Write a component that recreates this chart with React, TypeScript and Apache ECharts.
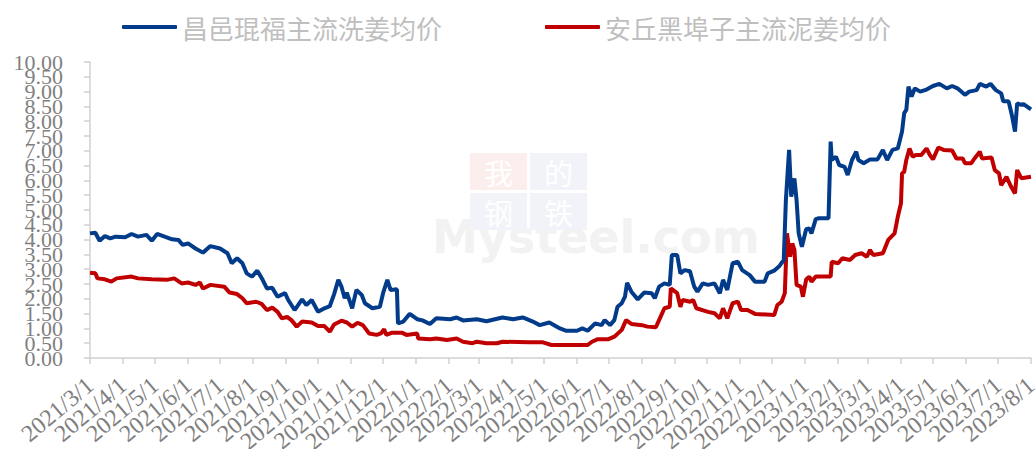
import React, { useEffect, useRef } from "react";
import * as echarts from "echarts";

const seriesNames = ["昌邑琨福主流洗姜均价", "安丘黑埠子主流泥姜均价"];

const blueDates = [
  "2021-03-01","2021-03-06","2021-03-10","2021-03-15","2021-03-20","2021-03-25","2021-04-03","2021-04-09","2021-04-15","2021-04-23",
  "2021-04-28","2021-05-03","2021-05-10","2021-05-17","2021-05-23","2021-05-27","2021-06-01","2021-06-08","2021-06-15","2021-06-22",
  "2021-07-01","2021-07-08","2021-07-12","2021-07-17","2021-07-22","2021-07-26","2021-07-31","2021-08-05","2021-08-10","2021-08-14",
  "2021-08-19","2021-08-24","2021-08-31","2021-09-03","2021-09-09","2021-09-16","2021-09-20","2021-09-25","2021-10-01","2021-10-07",
  "2021-10-12","2021-10-14","2021-10-16","2021-10-20","2021-10-23","2021-10-26","2021-10-28","2021-11-02","2021-11-06","2021-11-11",
  "2021-11-14","2021-11-21","2021-11-28","2021-12-01","2021-12-05","2021-12-08","2021-12-14","2021-12-15","2021-12-20","2021-12-26",
  "2022-01-02","2022-01-07","2022-01-14","2022-01-20","2022-02-02","2022-02-08","2022-02-14","2022-02-27","2022-03-08","2022-03-23",
  "2022-04-02","2022-04-11","2022-04-20","2022-04-27","2022-05-06","2022-05-16","2022-05-22","2022-06-01","2022-06-06","2022-06-11",
  "2022-06-18","2022-06-24","2022-06-27","2022-07-02","2022-07-06","2022-07-09","2022-07-13","2022-07-16","2022-07-18","2022-07-22",
  "2022-07-28","2022-08-03","2022-08-10","2022-08-13","2022-08-17","2022-08-22","2022-08-27","2022-08-29","2022-09-03","2022-09-06",
  "2022-09-10","2022-09-15","2022-09-19","2022-09-22","2022-09-27","2022-10-02","2022-10-08","2022-10-13","2022-10-16","2022-10-20",
  "2022-10-25","2022-10-30","2022-11-03","2022-11-10","2022-11-15","2022-11-24","2022-11-27","2022-12-03","2022-12-08","2022-12-12",
  "2022-12-14","2022-12-17","2022-12-19","2022-12-22","2022-12-24","2022-12-26","2022-12-29","2023-01-02","2023-01-05","2023-01-07",
  "2023-01-11","2023-01-14","2023-01-23","2023-01-25","2023-01-26","2023-01-30","2023-02-02","2023-02-07","2023-02-10","2023-02-14",
  "2023-02-18","2023-02-20","2023-02-25","2023-03-03","2023-03-10","2023-03-15","2023-03-19","2023-03-24","2023-03-29","2023-04-02",
  "2023-04-04","2023-04-06","2023-04-08","2023-04-11","2023-04-14","2023-04-19","2023-04-25","2023-05-01","2023-05-07","2023-05-14",
  "2023-05-19","2023-05-24","2023-05-31","2023-06-04","2023-06-11","2023-06-14","2023-06-20","2023-06-24","2023-06-29","2023-07-04",
  "2023-07-06","2023-07-11","2023-07-14","2023-07-17","2023-07-19","2023-07-23","2023-07-25","2023-08-01"
];
const blueValues = [
  4.21,4.23,3.96,4.12,4.04,4.10,4.08,4.19,4.10,4.16,
  3.96,4.19,4.10,4.01,3.99,3.82,3.87,3.70,3.56,3.78,
  3.70,3.54,3.20,3.37,3.20,2.86,2.75,2.95,2.64,2.35,
  2.37,2.07,2.19,1.96,1.62,1.98,1.79,1.96,1.56,1.68,
  1.75,1.95,2.15,2.64,2.41,2.02,2.21,1.68,2.30,2.13,
  1.85,1.68,1.73,2.19,2.64,2.30,2.32,1.17,1.23,1.49,
  1.31,1.27,1.15,1.34,1.31,1.37,1.27,1.31,1.24,1.37,
  1.31,1.37,1.24,1.11,1.20,1.00,0.92,0.92,1.00,0.92,
  1.17,1.11,1.28,1.11,1.28,1.73,1.85,2.07,2.54,2.24,
  1.98,2.21,2.19,2.02,2.41,2.52,2.47,3.48,3.48,2.86,
  2.97,2.93,2.41,2.24,2.52,2.47,2.52,2.19,2.64,2.30,
  3.20,3.25,2.97,2.80,2.58,2.58,2.86,2.95,3.11,3.31,
  5.34,7.03,5.45,6.07,5.34,4.21,3.76,4.35,4.38,4.21,
  4.69,4.72,4.72,7.31,6.69,6.80,6.52,6.46,6.18,6.69,
  6.97,6.69,6.58,6.71,6.71,7.03,6.69,7.03,7.08,7.65,
  8.27,8.38,9.17,8.83,9.11,9.00,9.07,9.19,9.26,9.11,
  9.19,9.11,8.89,9.00,9.05,9.26,9.17,9.26,9.05,8.94,
  8.67,8.67,8.21,7.65,8.60,8.55,8.58,8.40
];

const redDates = [
  "2021-03-01","2021-03-06","2021-03-08","2021-03-15","2021-03-21","2021-03-26","2021-04-09","2021-04-15","2021-04-28","2021-05-12",
  "2021-05-19","2021-05-26","2021-06-01","2021-06-08","2021-06-12","2021-06-15","2021-06-22","2021-07-05","2021-07-10","2021-07-17",
  "2021-07-22","2021-07-26","2021-08-04","2021-08-09","2021-08-14","2021-08-19","2021-08-24","2021-08-28","2021-09-02","2021-09-06",
  "2021-09-11","2021-09-16","2021-09-25","2021-10-01","2021-10-07","2021-10-12","2021-10-16","2021-10-23","2021-10-28","2021-11-02",
  "2021-11-07","2021-11-12","2021-11-18","2021-11-25","2021-11-29","2021-12-02","2021-12-04","2021-12-09","2021-12-19","2021-12-23",
  "2022-01-02","2022-01-03","2022-01-14","2022-01-20","2022-01-30","2022-02-08","2022-02-14","2022-02-23","2022-02-27","2022-03-08",
  "2022-03-18","2022-03-23","2022-04-17","2022-04-30","2022-05-08","2022-06-04","2022-06-11","2022-06-15","2022-06-20","2022-06-30",
  "2022-07-06","2022-07-13","2022-07-17","2022-07-22","2022-08-01","2022-08-06","2022-08-14","2022-08-17","2022-08-22","2022-08-27",
  "2022-08-28","2022-09-03","2022-09-06","2022-09-08","2022-09-15","2022-09-18","2022-09-21","2022-10-02","2022-10-08","2022-10-13",
  "2022-10-16","2022-10-20","2022-10-25","2022-10-30","2022-11-02","2022-11-08","2022-11-15","2022-12-03","2022-12-06","2022-12-10",
  "2022-12-13","2022-12-15","2022-12-18","2022-12-20","2022-12-22","2022-12-24","2022-12-28","2022-12-30","2023-01-02","2023-01-05",
  "2023-01-07","2023-01-11","2023-01-25","2023-01-26","2023-02-01","2023-02-05","2023-02-12","2023-02-17","2023-02-23","2023-02-28",
  "2023-03-03","2023-03-06","2023-03-15","2023-03-20","2023-03-26","2023-03-29","2023-04-01","2023-04-02","2023-04-04","2023-04-06",
  "2023-04-09","2023-04-12","2023-04-15","2023-04-20","2023-04-25","2023-04-28","2023-05-01","2023-05-06","2023-05-11","2023-05-19",
  "2023-05-23","2023-05-29","2023-05-31","2023-06-06","2023-06-09","2023-06-14","2023-06-16","2023-06-25","2023-06-28","2023-07-02",
  "2023-07-04","2023-07-09","2023-07-13","2023-07-17","2023-07-19","2023-07-23","2023-08-01"
];
const redValues = [
  2.88,2.86,2.69,2.66,2.58,2.69,2.75,2.69,2.66,2.64,
  2.69,2.52,2.55,2.47,2.55,2.35,2.47,2.41,2.21,2.16,
  2.02,1.85,1.90,1.83,1.62,1.70,1.56,1.34,1.39,1.28,
  1.06,1.23,1.20,1.08,1.08,0.89,1.13,1.26,1.20,1.06,
  1.19,1.11,0.83,0.78,0.83,0.97,0.78,0.85,0.85,0.78,
  0.83,0.66,0.63,0.66,0.61,0.66,0.55,0.50,0.55,0.50,
  0.50,0.55,0.53,0.53,0.44,0.44,0.44,0.55,0.63,0.63,
  0.72,0.95,1.28,1.15,1.11,1.06,1.04,1.28,1.68,1.73,
  2.35,2.19,1.73,1.96,1.90,1.96,1.68,1.56,1.51,1.34,
  1.68,1.34,1.85,1.90,1.62,1.62,1.49,1.45,1.79,1.90,
  2.19,4.21,3.42,3.87,3.65,2.47,2.41,2.07,2.65,2.75,
  2.58,2.75,2.75,3.25,3.20,3.37,3.31,3.48,3.54,3.42,
  3.65,3.48,3.54,3.99,4.21,4.77,5.23,6.24,6.29,6.69,
  7.08,6.80,6.86,6.86,7.08,6.86,6.71,7.11,7.03,7.01,
  6.74,6.74,6.58,6.58,6.74,6.97,6.74,6.77,6.35,6.24,
  5.84,6.12,5.81,5.56,6.35,6.07,6.12
];

const monthTicks = [
  "2021-03-01","2021-04-01","2021-05-01","2021-06-01","2021-07-01","2021-08-01","2021-09-01","2021-10-01","2021-11-01","2021-12-01",
  "2022-01-01","2022-02-01","2022-03-01","2022-04-01","2022-05-01","2022-06-01","2022-07-01","2022-08-01","2022-09-01","2022-10-01",
  "2022-11-01","2022-12-01","2023-01-01","2023-02-01","2023-03-01","2023-04-01","2023-05-01","2023-06-01","2023-07-01","2023-08-01"
];

const yTicks = [0, 0.5, 1, 1.5, 2, 2.5, 3, 3.5, 4, 4.5, 5, 5.5, 6, 6.5, 7, 7.5, 8, 8.5, 9, 9.5, 10];

const colors = ["#023b8a", "#c00000"];

function toTime(s: string): number {
  const [y, m, d] = s.split("-").map(Number);
  return Date.UTC(y, m - 1, d);
}

export default function App() {
  const ref = useRef<HTMLDivElement>(null);
  useEffect(() => {
    if (!ref.current) return;
    const chart = echarts.init(ref.current, null, { renderer: "svg" });
    const tickTimes = monthTicks.map(toTime);
    const serif = "Liberation Serif";
    const cjk = "Noto Sans CJK SC";
    // split the label sets so ECharts' min/max-label overlap pruning never drops a label
    const xLabelsA = tickTimes.filter((_, i) => i !== 1 && i !== tickTimes.length - 2);
    const xLabelsB = [tickTimes[1], tickTimes[tickTimes.length - 2]];
    const yLabelsA = yTicks.filter((_, i) => i !== 1 && i !== yTicks.length - 2);
    const yLabelsB = [yTicks[1], yTicks[yTicks.length - 2]];
    const xMin = tickTimes[0];
    const xMax = tickTimes[tickTimes.length - 1];
    const dateFmt = (v: number) => {
      const d = new Date(v);
      return `${d.getUTCFullYear()}/${d.getUTCMonth() + 1}/${d.getUTCDate()}`;
    };
    const xLabelBase = {
      rotate: 40,
      margin: 24,
      color: "#7f7f7f",
      fontSize: 24,
      fontFamily: serif,
      showMinLabel: true,
      showMaxLabel: true,
      hideOverlap: false,
      formatter: dateFmt,
    };
    const yLabelBase = {
      margin: 27,
      color: "#7f7f7f",
      fontSize: 22,
      fontFamily: serif,
      showMinLabel: true,
      showMaxLabel: true,
      hideOverlap: false,
      formatter: (v: number) => v.toFixed(2),
    };
    const axisColor = "#d0d0d0";
    chart.setOption({
      animation: false,
      backgroundColor: "#ffffff",
      color: colors,
      legend: {
        left: 122,
        top: 14,
        padding: 0,
        icon: "roundRect",
        itemWidth: 55,
        itemHeight: 4,
        itemGap: 103,
        textStyle: {
          color: "#bfbfbf",
          fontSize: 26,
          fontFamily: cjk,
        },
        data: seriesNames,
      },
      graphic: [
        { type: "rect", left: 470, top: 153, shape: { width: 57, height: 37 }, style: { fill: "#fdeeee" }, silent: true, z: -10 },
        { type: "rect", left: 530, top: 153, shape: { width: 57, height: 37 }, style: { fill: "#f1f3f8" }, silent: true, z: -10 },
        { type: "rect", left: 470, top: 193, shape: { width: 57, height: 37 }, style: { fill: "#f1f3f8" }, silent: true, z: -10 },
        { type: "rect", left: 530, top: 193, shape: { width: 57, height: 37 }, style: { fill: "#f1f3f8" }, silent: true, z: -10 },
        { type: "text", left: 484, top: 157, style: { text: "我", fill: "#ffffff", fontSize: 29, fontFamily: cjk }, silent: true, z: -9 },
        { type: "text", left: 544, top: 157, style: { text: "的", fill: "#ffffff", fontSize: 29, fontFamily: cjk }, silent: true, z: -9 },
        { type: "text", left: 484, top: 197, style: { text: "钢", fill: "#ffffff", fontSize: 29, fontFamily: cjk }, silent: true, z: -9 },
        { type: "text", left: 544, top: 197, style: { text: "铁", fill: "#ffffff", fontSize: 29, fontFamily: cjk }, silent: true, z: -9 },
        { type: "text", left: 432, top: 214, style: { text: "Mysteel.com", fill: "#f2f2f2", fontSize: 46, fontWeight: "bold", fontFamily: "DejaVu Sans" }, silent: true, z: -11 },
      ],
      grid: { left: 90, right: 5, top: 62, bottom: 91, containLabel: false, outerBoundsMode: "none" },
      xAxis: [
        {
          type: "value",
          min: xMin,
          max: xMax,
          axisLine: { show: true, lineStyle: { color: axisColor, width: 1.5 } },
          axisTick: { show: true, length: 6, lineStyle: { color: axisColor, width: 1.5 }, customValues: tickTimes },
          axisLabel: { ...xLabelBase, customValues: xLabelsA },
          splitLine: { show: false },
        },
        {
          type: "value",
          position: "bottom",
          min: xMin,
          max: xMax,
          axisLine: { show: false },
          axisTick: { show: false },
          axisLabel: { ...xLabelBase, customValues: xLabelsB },
          splitLine: { show: false },
        },
      ],
      yAxis: [
        {
          type: "value",
          min: 0,
          max: 10,
          interval: 0.5,
          axisLine: { show: true, lineStyle: { color: axisColor, width: 1.5 } },
          axisTick: { show: true, length: 6, lineStyle: { color: axisColor, width: 1.5 } },
          axisLabel: { ...yLabelBase, customValues: yLabelsA },
          splitLine: { show: false },
        },
        {
          type: "value",
          position: "left",
          min: 0,
          max: 10,
          interval: 0.5,
          axisLine: { show: false },
          axisTick: { show: false },
          axisLabel: { ...yLabelBase, customValues: yLabelsB },
          splitLine: { show: false },
        },
      ],
      series: [
        {
          name: seriesNames[0],
          type: "line",
          xAxisIndex: 0,
          yAxisIndex: 0,
          showSymbol: false,
          lineStyle: { width: 4, color: colors[0] },
          data: blueDates.map((d, i) => [toTime(d), blueValues[i]]),
          z: 3,
        },
        {
          name: seriesNames[1],
          type: "line",
          xAxisIndex: 0,
          yAxisIndex: 0,
          showSymbol: false,
          lineStyle: { width: 4, color: colors[1] },
          data: redDates.map((d, i) => [toTime(d), redValues[i]]),
          z: 2,
        },
      ],
    });
    return () => chart.dispose();
  }, []);
  return <div ref={ref} style={{ width: 1036, height: 449, position: "absolute", left: 0, top: 0 }} />;
}
